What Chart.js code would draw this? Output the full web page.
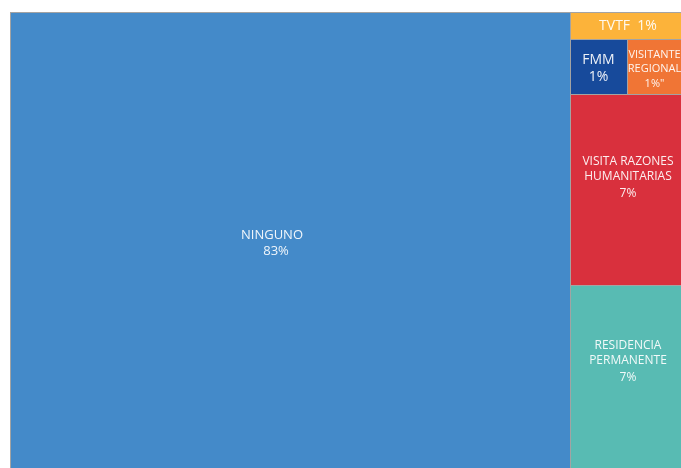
<!DOCTYPE html>
<html>
<head>
<meta charset="utf-8">
<script src="https://cdn.jsdelivr.net/npm/chart.js@4"></script>
<style>
  html, body { margin: 0; padding: 0; overflow: hidden; background: #fff; }
  #wrap { position: absolute; left: 0; top: 0; width: 686px; height: 472px; }
</style>
</head>
<body>
<div id="wrap"><canvas id="myChart"></canvas></div>
<script>
// data
const names = ["NINGUNO", "VISITA RAZONES HUMANITARIAS", "RESIDENCIA PERMANENTE", "VISITANTE REGIONAL", "FMM", "TVTF"];
const values = [83.0, 7.12, 7.0, 1.04, 1.02, 1.01];
const pctLabels = ["83%", "7%", "7%", "1%\"", "1%", "1%"];

// styles
const colors = ["#448ac9", "#d9303d", "#58bbb3", "#f07535", "#174a9b", "#fcb33a"];
const fontSizes = [13, 12, 12, 11, 14, 14];
const labelShift = [[-18, 1], [0, -12], [0, -17], [-2, 3], [0, 2], [0, 0]];

// how the cells are grouped (direction only, sizes come from values)
const layoutTree = { dir: "x", items: [0, { dir: "y", items: [{ dir: "y", items: [5, { dir: "x", items: [4, 3] }] }, 1, 2] }] };

function total(node) {
    if (typeof node === "number") return values[node];
    return node.items.reduce(function (s, n) { return s + total(n); }, 0);
}

function place(node, x0, y0, x1, y1, out) {
    if (typeof node === "number") {
        out[node] = { x0: x0, y0: y0, x1: x1, y1: y1 };
        return;
    }
    const sum = total(node);
    let pos = node.dir === "x" ? x0 : y0;
    node.items.forEach(function (n) {
        const frac = total(n) / sum;
        if (node.dir === "x") {
            const w = (x1 - x0) * frac;
            place(n, pos, y0, pos + w, y1, out);
            pos += w;
        } else {
            const h = (y1 - y0) * frac;
            place(n, x0, pos, x1, pos + h, out);
            pos += h;
        }
    });
}

const cells = [];
place(layoutTree, 0, 0, 1, 1, cells);

function wrapText(ctx, text, maxW) {
    const words = text.split(" ");
    const lines = [];
    let cur = "";
    words.forEach(function (w) {
        const test = cur ? cur + " " + w : w;
        if (ctx.measureText(test).width > maxW && cur) {
            lines.push(cur);
            cur = w;
        } else {
            cur = test;
        }
    });
    if (cur) lines.push(cur);
    return lines;
}

const treemapPlugin = {
    id: "treemapCells",
    afterDatasetsDraw: function (chart) {
        const ctx = chart.ctx;
        const xs = chart.scales.x;
        const ys = chart.scales.y;
        const box = function (c) {
            return {
                left: Math.round(xs.getPixelForValue(c.x0)),
                right: Math.round(xs.getPixelForValue(c.x1)),
                top: Math.round(ys.getPixelForValue(c.y0)),
                bottom: Math.round(ys.getPixelForValue(c.y1)),
            };
        };
        ctx.save();
        cells.forEach(function (c, i) {
            const b = box(c);
            ctx.fillStyle = colors[i];
            ctx.fillRect(b.left, b.top, b.right - b.left, b.bottom - b.top);
            ctx.strokeStyle = "#a3a3a3";
            ctx.lineWidth = 1;
            ctx.strokeRect(b.left + 0.5, b.top + 0.5, b.right - b.left, b.bottom - b.top);
        });
        cells.forEach(function (c, i) {
            const b = box(c);
            const fs = fontSizes[i];
            const cx = (b.left + b.right) / 2 + labelShift[i][0];
            const cy = (b.top + b.bottom) / 2 + labelShift[i][1];
            ctx.save();
            ctx.beginPath();
            ctx.rect(b.left + 1, b.top + 1, b.right - b.left - 1, b.bottom - b.top - 1);
            ctx.clip();
            ctx.font = fs + "px 'Open Sans', sans-serif";
            ctx.fillStyle = "rgba(255,255,255,0.92)";
            ctx.textAlign = "center";
            ctx.textBaseline = "middle";
            if (b.bottom - b.top < fs * 2.5) {
                ctx.fillText(names[i] + "  " + pctLabels[i], cx, cy + 1);
            } else {
                const lines = wrapText(ctx, names[i], b.right - b.left - 6);
                const lh = fs * 1.25;
                const gap = lines.length > 1 ? fs * 1.45 : fs * 1.25;
                const blockH = (lines.length - 1) * lh + gap;
                let y = cy - blockH / 2;
                lines.forEach(function (l) {
                    ctx.fillText(l, cx, y);
                    y += lh;
                });
                ctx.fillText(pctLabels[i], cx + (i === 0 ? 4 : 0), y - lh + gap);
            }
            ctx.restore();
        });
        ctx.restore();
    }
};

const ctx1 = document.getElementById("myChart");

new Chart(ctx1, {
    type: "scatter",
    data: {
        labels: names,
        datasets: [
            {
                label: "Porcentaje",
                data: values.map(function (v, i) {
                    return { x: (cells[i].x0 + cells[i].x1) / 2, y: (cells[i].y0 + cells[i].y1) / 2 };
                }),
                pointRadius: 0,
            },
        ],
    },
    options: {
        responsive: true,
        maintainAspectRatio: false,
        animation: false,
        layout: { padding: { left: 10, top: 12, right: 0, bottom: 0 } },
        scales: {
            x: { display: false, min: 0, max: 1 },
            y: { display: false, min: 0, max: 1, reverse: true },
        },
        plugins: {
            legend: { display: false },
            tooltip: { enabled: false },
        },
    },
    plugins: [treemapPlugin],
});
</script>
</body>
</html>
